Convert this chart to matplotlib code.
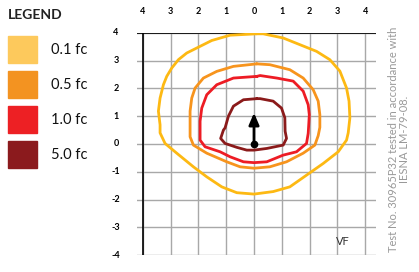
import matplotlib
matplotlib.use('Agg')
import matplotlib.pyplot as plt
import numpy as np

# isofootcandle contours (x, y in mounting heights)
fc01_x = [0.10, -0.86, -1.52, -2.06, -2.42, -2.72, -2.96, -3.14, -3.26, -3.38, -3.44, -3.38, -3.38, -3.20, -2.78, -2.18, -1.70, -1.16, -0.62, 0, 0.69, 1.29, 1.89, 2.49, 3.03, 3.33, 3.39, 3.45, 3.42, 3.33, 3.09, 2.73, 2.25, 1.65, 1.05, 0.33, 0.10]
fc01_y = [3.96, 3.91, 3.72, 3.45, 3.27, 3.03, 2.73, 2.43, 2.13, 1.65, 1.18, 0.69, 0.40, 0.02, -0.33, -0.82, -1.18, -1.54, -1.75, -1.80, -1.71, -1.54, -1.12, -0.70, -0.28, 0.14, 0.40, 0.94, 1.54, 2.01, 2.62, 3.03, 3.33, 3.57, 3.81, 3.96, 3.96]

fc05_x = [0.10, -0.74, -1.34, -1.82, -2.12, -2.24, -2.30, -2.30, -2.30, -2.18, -1.70, -0.98, -0.50, 0, 0.57, 1.17, 1.77, 2.19, 2.31, 2.37, 2.37, 2.31, 2.13, 1.77, 1.29, 0.57, 0.10]
fc05_y = [2.88, 2.79, 2.61, 2.37, 2.01, 1.65, 1.18, 0.58, 0.26, -0.04, -0.33, -0.64, -0.82, -0.87, -0.82, -0.64, -0.33, -0.04, 0.30, 0.60, 1.05, 1.54, 1.95, 2.37, 2.67, 2.85, 2.88]

fc10_x = [0.10, -0.74, -1.34, -1.70, -1.88, -1.94, -1.94, -1.94, -1.76, -1.22, -0.86, -0.38, 0, 0.46, 1.05, 1.53, 1.89, 1.95, 1.97, 1.99, 1.95, 1.77, 1.41, 0.82, 0.22, 0.10]
fc10_y = [2.43, 2.37, 2.13, 1.77, 1.29, 0.82, 0.22, 0.14, -0.10, -0.28, -0.46, -0.64, -0.67, -0.64, -0.40, -0.28, 0.02, 0.38, 0.70, 1.05, 1.41, 1.90, 2.26, 2.37, 2.46, 2.43]

fc50_x = [0.10, -0.38, -0.74, -0.92, -1.04, -1.10, -1.20, -1.04, -0.62, -0.26, 0, 0.46, 1.05, 1.17, 1.12, 1.11, 0.99, 0.69, 0.22, 0.10]
fc50_y = [1.63, 1.59, 1.36, 1.00, 0.58, 0.50, 0.20, 0.02, -0.12, -0.22, -0.22, -0.16, -0.04, 0.20, 0.46, 0.94, 1.29, 1.54, 1.63, 1.63]

legend_labels = ['0.1 fc', '0.5 fc', '1.0 fc', '5.0 fc']
swatch_colors = ['#FDC95C', '#F39321', '#ED2024', '#8B1A1D']
line_colors = ['#FDB913', '#F7941D', '#ED1C24', '#8B1A1A']

x_ticks = [-4, -3, -2, -1, 0, 1, 2, 3, 4]
y_ticks = [4, 3, 2, 1, 0, -1, -2, -3, -4]

fig = plt.figure(figsize=(4.19, 2.72), dpi=100)
plt.rcParams['font.family'] = ['Lato', 'DejaVu Sans']

ax = fig.add_axes([137/419, 1 - 255.3/272, (376 - 137)/419, (255.3 - 32.7)/272])
ax.set_xlim(-4.21, 4.39)
ax.set_ylim(-4, 4)
ax.axis('off')

for x in x_ticks:
	ax.plot([x, x], [-4, 4], color='#a8a8a8', linewidth=1, zorder=1)
for y in y_ticks:
	ax.plot([-4.21, 4.39], [y, y], color='#a8a8a8', linewidth=1, zorder=1)
ax.plot([-4, -4], [-4, 4], color='black', linewidth=1.2, zorder=2)
ax.plot([-4.21, 4.39], [4, 4], color='black', linewidth=1.2, zorder=2)

for xs, ys, c in zip([fc01_x, fc05_x, fc10_x, fc50_x], [fc01_y, fc05_y, fc10_y, fc50_y], line_colors):
	ax.plot(xs, ys, color=c, linewidth=2.0, solid_joinstyle='round', solid_capstyle='round', zorder=3)

# fixture aiming arrow
ax.annotate('', xy=(0, 1.12), xytext=(0, 0),
	arrowprops=dict(arrowstyle='-|>,head_length=0.7,head_width=0.3', color='black', lw=2, shrinkA=0, shrinkB=0), zorder=4)
ax.plot([0], [0], marker='o', markersize=4.5, color='black', zorder=5)

ax.text(3.19, -3.49, 'VF', fontsize=8, color='#333333', ha='center', va='center')

for x in x_ticks:
	fig.text((254 + x * 27.85) / 419, 1 - 11.5/272, str(abs(x)), fontsize=6.5, ha='center', va='center', fontweight='bold')
for y in y_ticks:
	fig.text(116/419, 1 - (144 - y * 27.8)/272, str(y), fontsize=6.5, ha='center', va='center', fontweight='bold')

# legend
fig.text(8/419, 1 - 15/272, 'LEGEND', fontsize=10, fontweight='bold', ha='left', va='center', color='#222222')
sw_top = [36, 71, 106, 141]
for top, c, lab in zip(sw_top, swatch_colors, legend_labels):
	fig.patches.append(plt.Rectangle((8/419, 1 - (top + 27)/272), 29/419, 27/272, transform=fig.transFigure, color=c, figure=fig))
	fig.text(51/419, 1 - (top + 14)/272, lab, fontsize=10.5, ha='left', va='center', color='#111111')

fig.text(399/419, 1 - 139/272, 'Test No. 30965P32 tested in accordance with\nIESNA LM-79-08.',
	rotation=90, fontsize=8, color='#999999', ha='center', va='center', linespacing=1.0)

fig.savefig('out.png', dpi=100)
